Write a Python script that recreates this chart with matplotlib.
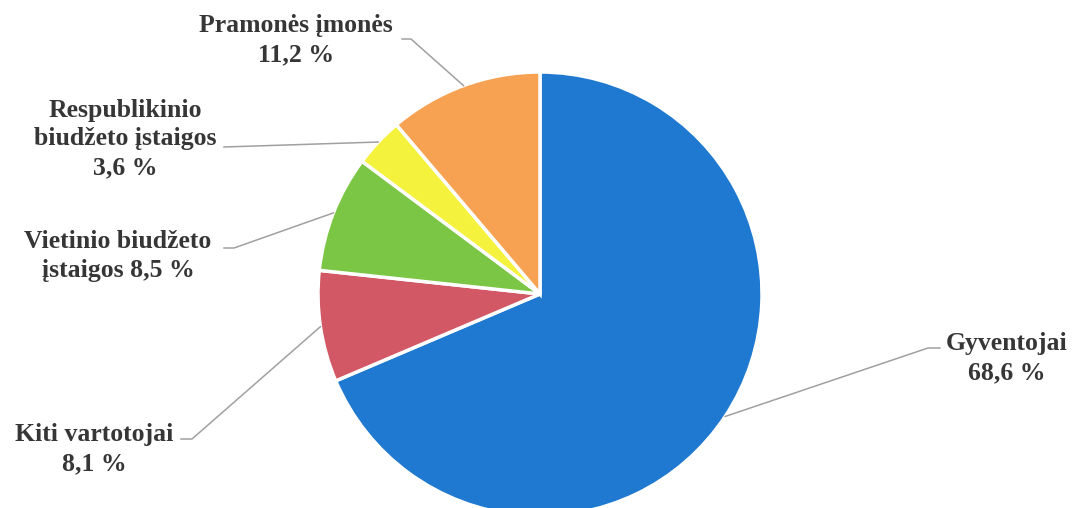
import numpy as np
import matplotlib
matplotlib.use("Agg")
import matplotlib.pyplot as plt

# shares of consumers, %
categories = ["Gyventojai", "Kiti vartotojai", "Vietinio biudžeto įstaigos",
              "Respublikinio biudžeto įstaigos", "Pramonės įmonės"]
shares = [68.6, 8.1, 8.5, 3.6, 11.2]
labels = ["Gyventojai\n68,6 %", "Kiti vartotojai\n8,1 %",
          "Vietinio biudžeto\nįstaigos 8,5 %",
          "Respublikinio\nbiudžeto įstaigos\n3,6 %",
          "Pramonės įmonės\n11,2 %"]
colors = ["#2079d0", "#d25866", "#7cc646", "#f4f23c", "#f7a152"]

W, H = 1077, 508
# label layout in pixel coords (top-left origin): text center, line end at text, elbow
label_pos = [(1007, 358), (94, 449), (118, 256), (125, 139), (296, 40)]
line_end = [(940, 348), (181, 439), (224, 248), (224, 147), (402, 39)]
elbow = [(928, 348), (192, 439), (234, 248), (224, 147), (411, 39)]

cx, cy, R = 540, 294, 222

fig = plt.figure(figsize=(W / 100, H / 100), dpi=100)
ax = fig.add_axes([0, 0, 1, 1])

wedges, _ = ax.pie(shares, colors=colors, startangle=90, counterclock=False,
                   radius=R, center=(cx, H - cy), frame=True,
                   wedgeprops=dict(edgecolor="white", linewidth=2.5))
ax.set_xlim(0, W)
ax.set_ylim(0, H)
ax.set_aspect("equal")
ax.axis("off")

for w, lab, tp, le, el in zip(wedges, labels, label_pos, line_end, elbow):
    mid = np.deg2rad((w.theta1 + w.theta2) / 2)
    ax_, ay_ = cx + R * np.cos(mid), (H - cy) + R * np.sin(mid)
    ax.plot([ax_, el[0], le[0]], [ay_, H - el[1], H - le[1]],
            color="#a0a0a0", lw=1.1, zorder=3)
    ax.text(tp[0], H - tp[1], lab, ha="center", va="center",
            fontsize=18.5, fontweight="bold", family="Liberation Serif",
            color="#363636", linespacing=1.33)

fig.savefig("out.png", dpi=100)
